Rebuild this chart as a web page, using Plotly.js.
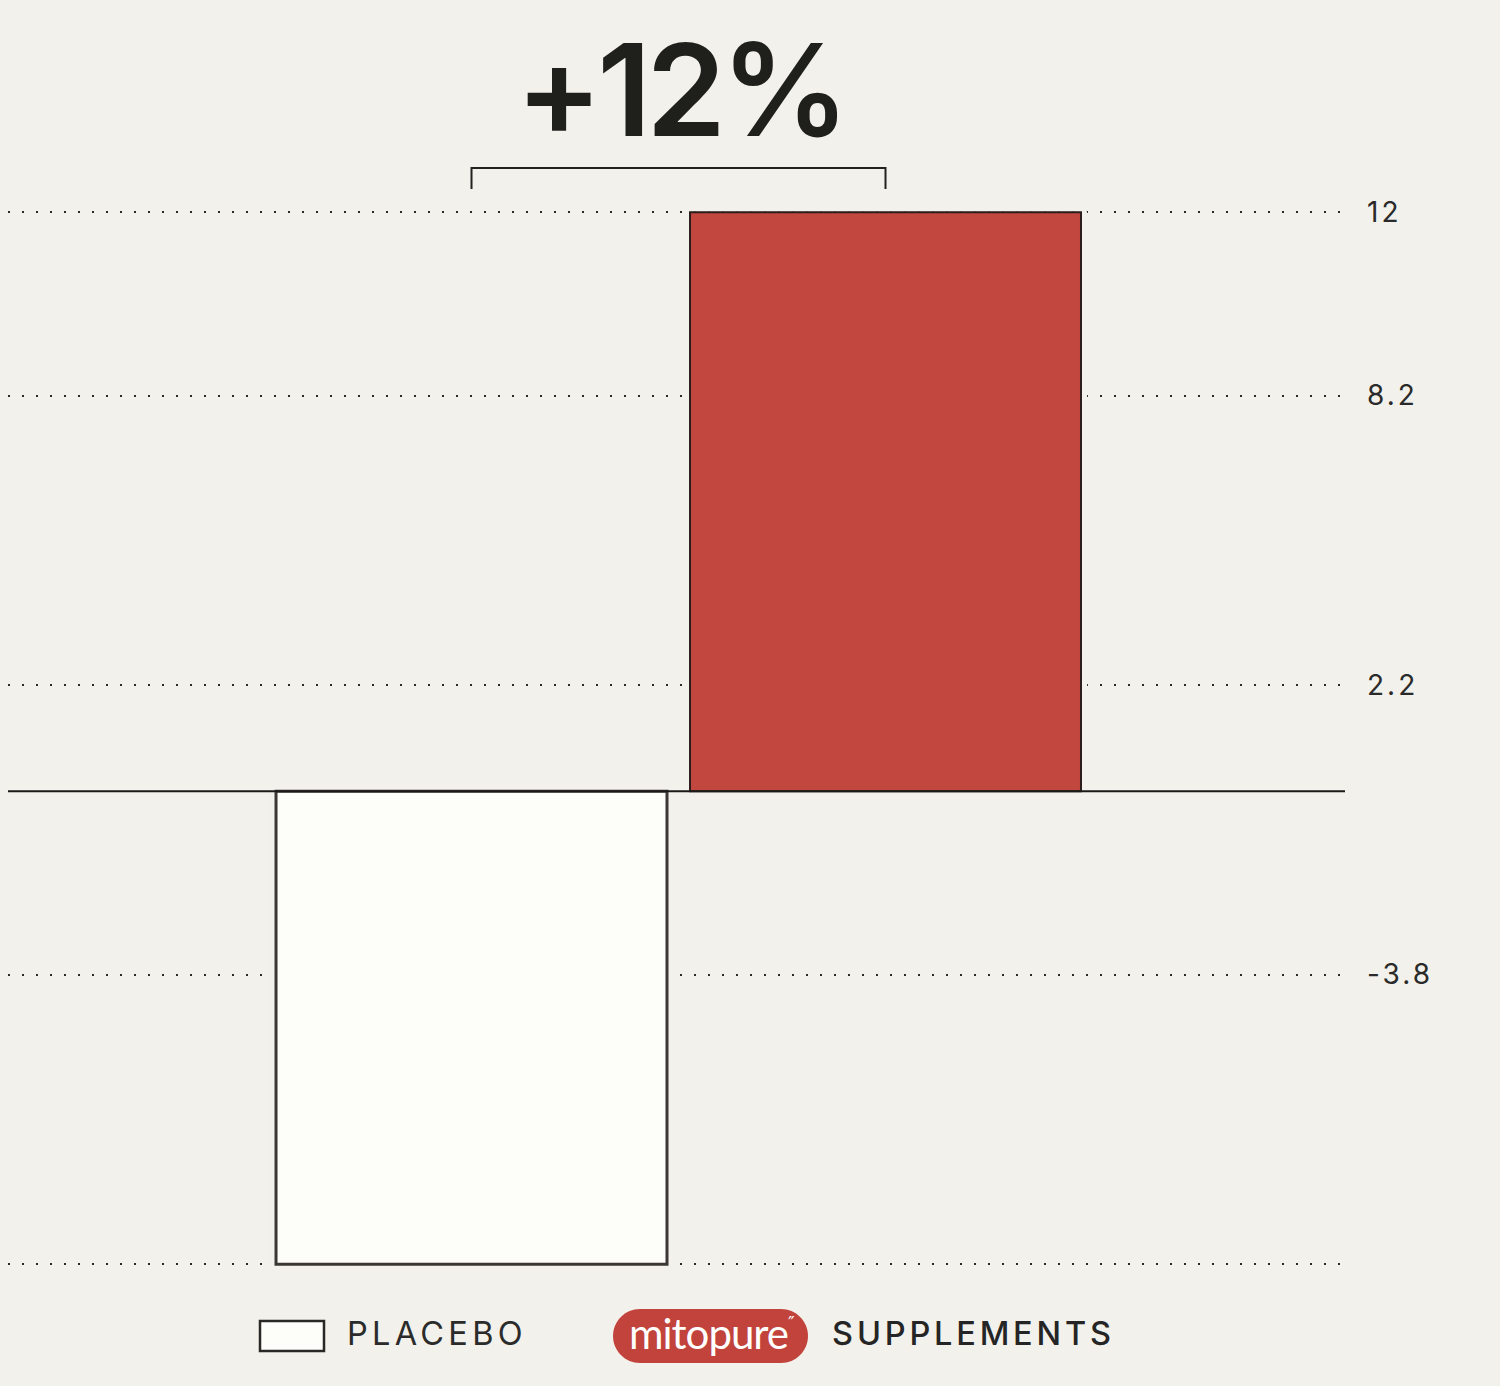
<!DOCTYPE html>
<html><head><meta charset="utf-8">
<script src="https://cdn.plot.ly/plotly-3.0.1.min.js"></script>
<style>
html,body{margin:0;padding:0;background:#f2f1eb;}
#chart{width:1500px;height:1386px;}
.ytick text{letter-spacing:3px;}
.annotation[data-index="0"] text{letter-spacing:-5px;}
.annotation[data-index="1"] text{letter-spacing:4.3px;}
.annotation[data-index="2"] text{letter-spacing:-1px;}
.annotation[data-index="4"] text{letter-spacing:3.8px;}
</style></head><body><div id="chart"></div>
<script>
// ---- data ----
const categories = ['PLACEBO', 'SUPPLEMENTS'];
const values = [-9.8, 12];
const tickValues = [12, 8.2, 2.2, -3.8, -9.8];
const tickLabels = ['12', '8.2', '2.2', '-3.8', ''];
const headline = '+12%';
const legendLabels = ['PLACEBO', 'SUPPLEMENTS'];
const brandName = 'mitopure';

// ---- styles ----
const BG = '#f2f1eb';
const barFill = ['#fdfdf9', '#c1473f'];
const barEdge = ['#3a3734', '#2a1d1b'];
const barEdgeWidth = [3, 2];

const W = 1500, H = 1386, L = 8, R = 155, T = 188, B = 88;
const PW = W - L - R, PH = H - T - B;
const px = v => (v - L) / PW;
const py = v => (H - B - v) / PH;

function pill(x0, y0, x1, y1) {
  const r = (y1 - y0) / 2, k = 0.5523 * r;
  const P = (x, y) => px(x).toFixed(5) + ',' + py(y).toFixed(5);
  return 'M' + P(x0 + r, y0) + ' L' + P(x1 - r, y0) +
    ' C' + P(x1 - r + k, y0) + ' ' + P(x1, y0 + r - k) + ' ' + P(x1, y0 + r) +
    ' C' + P(x1, y0 + r + k) + ' ' + P(x1 - r + k, y1) + ' ' + P(x1 - r, y1) +
    ' L' + P(x0 + r, y1) +
    ' C' + P(x0 + r - k, y1) + ' ' + P(x0, y1 - r + k) + ' ' + P(x0, y0 + r) +
    ' C' + P(x0, y0 + r - k) + ' ' + P(x0 + r - k, y0) + ' ' + P(x0 + r, y0) + ' Z';
}

const halo = {
  type: 'bar', x: categories, y: values, width: 0.969,
  marker: {color: BG, line: {color: BG, width: 2}},
  hoverinfo: 'skip', showlegend: false
};
const bars = {
  type: 'bar', x: categories, y: values, width: 0.9444,
  marker: {color: barFill, line: {color: barEdge, width: barEdgeWidth}},
  showlegend: false
};

const layout = {
  width: W, height: H,
  margin: {l: L, r: R, t: T, b: B, pad: 0},
  paper_bgcolor: BG, plot_bgcolor: BG,
  barmode: 'overlay', showlegend: false,
  xaxis: {type: 'category', range: [-1.1196, 2.1099], showgrid: false, zeroline: false,
          showticklabels: false, showline: false, ticks: '', fixedrange: true},
  yaxis: {side: 'right', range: [-10.5, 12.5], tickmode: 'array', tickvals: tickValues, ticktext: tickLabels,
          showgrid: true, gridcolor: '#2a2a28', gridwidth: 2, griddash: '2px,12px',
          zeroline: false, showline: false, ticks: '', ticklabelstandoff: 21,
          tickfont: {family: 'Inter, Liberation Sans, sans-serif', size: 28, color: '#2a2a2a'}, fixedrange: true},
  shapes: [
    {type: 'line', xref: 'paper', x0: 0, x1: 1, yref: 'y', y0: 0, y1: 0,
     line: {color: '#1c1a18', width: 2}, layer: 'above'},
    {type: 'path', xref: 'x', yref: 'paper',
     path: 'M0,' + py(189) + ' L0,' + py(168) + ' L1,' + py(168) + ' L1,' + py(189),
     line: {color: '#222220', width: 2}, layer: 'above'},
    {type: 'rect', xref: 'paper', yref: 'paper', x0: px(260), x1: px(324), y0: py(1351), y1: py(1321),
     fillcolor: '#fdfdf9', line: {color: '#2a2826', width: 2.5}},
    {type: 'path', xref: 'paper', yref: 'paper', path: pill(613, 1309, 808, 1363),
     fillcolor: '#c1433c', line: {width: 0}}
  ],
  annotations: [
    {text: headline, xref: 'paper', yref: 'paper', x: px(681), y: py(89), xanchor: 'center', yanchor: 'middle',
     showarrow: false, font: {family: 'Inter, sans-serif', size: 128, weight: 600, color: '#1f1f1b'}},
    {text: legendLabels[0], xref: 'paper', yref: 'paper', x: px(437), y: py(1333), xanchor: 'center', yanchor: 'middle',
     showarrow: false, font: {family: 'Inter, sans-serif', size: 32.5, weight: 400, color: '#2b2b2b'}},
    {text: brandName, xref: 'paper', yref: 'paper', x: px(708), y: py(1333), xanchor: 'center', yanchor: 'middle',
     showarrow: false, font: {family: 'Lato, sans-serif', size: 42, weight: 400, color: '#ffffff'}},
    {text: '″', xref: 'paper', yref: 'paper', x: px(791), y: py(1322), xanchor: 'center', yanchor: 'middle',
     showarrow: false, font: {family: 'DejaVu Sans, sans-serif', size: 18, color: '#ffffff'}},
    {text: legendLabels[1], xref: 'paper', yref: 'paper', x: px(973), y: py(1333), xanchor: 'center', yanchor: 'middle',
     showarrow: false, font: {family: 'Inter, sans-serif', size: 32.5, weight: 500, color: '#252525'}}
  ]
};

Plotly.newPlot('chart', [halo, bars], layout, {displayModeBar: false, staticPlot: true});
</script></body></html>
